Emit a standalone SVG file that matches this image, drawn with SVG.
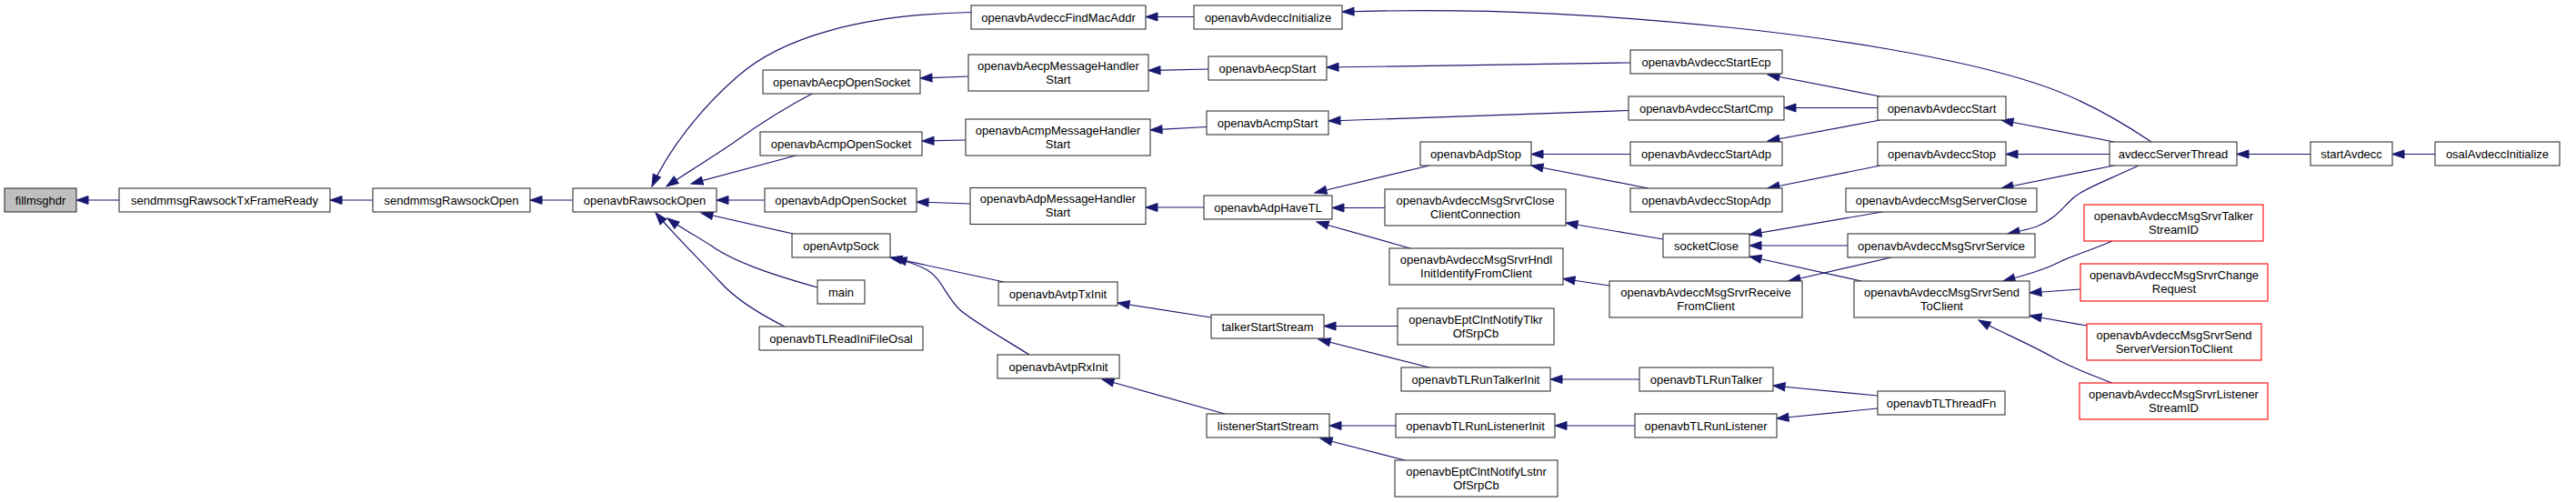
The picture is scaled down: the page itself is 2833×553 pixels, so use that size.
<svg xmlns="http://www.w3.org/2000/svg" width="2833" height="553" viewBox="0 0 2833 553">
<defs>
<style>
.n rect{fill:#fff;stroke:#333;stroke-width:1.1}
.n.r rect{stroke:#ff0000}
.n.g rect{fill:#bfbfbf}
.n text{font-family:"Liberation Sans",Arial,sans-serif;font-size:13px;fill:#000;text-anchor:middle}
#edges path{fill:none;stroke:#191970;stroke-width:1.2;marker-end:url(#ah)}
</style>
<marker id="ah" markerWidth="16" markerHeight="12" refX="13" refY="4.5" orient="auto" markerUnits="userSpaceOnUse" overflow="visible"><path d="M0,0 L13,4.5 L0,9 z" fill="#191970" stroke="#191970" stroke-width="1"/></marker>
</defs>
<rect width="2833" height="553" fill="#fff"/>
<g id="edges">
<path d="M131,220 L84,220"/>
<path d="M410,220 L363,220"/>
<path d="M630,220 L583,220"/>
<path d="M1068,13.5 C950,16 860,40 810,85 C770,120 735,165 717,205"/>
<path d="M895,102 C860,120 830,140 805,158 C780,175 755,190 733,205"/>
<path d="M879,170 L760,202"/>
<path d="M841,220 L788,220"/>
<path d="M872,257 L771,234"/>
<path d="M899,316 C860,305 810,290 782,270 C760,256 745,248 734,240"/>
<path d="M863,359 C835,345 810,330 792,310 C772,288 745,262 721,234"/>
<path d="M1313,18.5 L1260,18.5"/>
<path d="M1065,84 L1012,86"/>
<path d="M1062,154 L1014,155"/>
<path d="M1067,224 L1008,222"/>
<path d="M1104,310 L979,283"/>
<path d="M1132,390 C1100,370 1068,352 1055,340 C1040,325 1035,306 1020,297 C1008,290 996,287 984,284"/>
<path d="M1329,76 L1263,77.5"/>
<path d="M1327,139.5 L1265,143"/>
<path d="M1324,228 L1260,228"/>
<path d="M1332,349 L1229,333"/>
<path d="M1347,455 L1212,417"/>
<path d="M2366,156 C2320,125 2280,105 2240,92 C2150,62 2000,40 1900,30 C1780,18 1650,8 1476,13"/>
<path d="M1793,69 L1459,74"/>
<path d="M1791,121.5 L1461,133"/>
<path d="M1572,182 L1446,212"/>
<path d="M1523,228.5 L1465,228.5"/>
<path d="M1551,273 L1448,244"/>
<path d="M1537,358.5 L1456,358.5"/>
<path d="M1572,404 L1450,373"/>
<path d="M1535,468 L1462,468"/>
<path d="M1545,506 L1452,482"/>
<path d="M2068,106 L1944,82"/>
<path d="M2065,118.5 L1962,118.5"/>
<path d="M2068,132 L1944,155"/>
<path d="M1793,169.5 L1684,169.5"/>
<path d="M1813,207 L1684,182"/>
<path d="M1829,263 L1722,245"/>
<path d="M1770,314 L1719,306.5"/>
<path d="M1803,417 L1705,417"/>
<path d="M1798,468 L1710,468"/>
<path d="M2068,182 L1944,207"/>
<path d="M2070,233 L1924,258"/>
<path d="M2032,270 L1924,270"/>
<path d="M2047,309 L1924,282"/>
<path d="M2080,283 L1967,309"/>
<path d="M2065,435 L1950,424"/>
<path d="M2065,449 L1954,460"/>
<path d="M2325,156 L2201,132"/>
<path d="M2320,169.5 L2206,169.5"/>
<path d="M2325,182 L2201,207"/>
<path d="M2352,182 C2318,198 2295,206 2282,216 C2268,228 2262,240 2240,249 C2228,253 2218,255 2208,257"/>
<path d="M2541,169.5 L2460,169.5"/>
<path d="M2678,169.5 L2631,169.5"/>
<path d="M2323,265 C2300,275 2282,280 2267,287 C2248,297 2225,303 2203,309"/>
<path d="M2288,318 L2232,322"/>
<path d="M2295,358 L2232,347"/>
<path d="M2323,421 C2300,412 2280,405 2260,394 C2230,377 2200,365 2176,352"/>
</g>
<g id="fillmsghdr" class="n g"><rect x="5" y="207" width="79" height="26"/><text x="44.5" y="224.5">fillmsghdr</text></g>
<g id="sendmmsgRawsockTxFrameReady" class="n"><rect x="131" y="207" width="232" height="26"/><text x="247" y="224.5">sendmmsgRawsockTxFrameReady</text></g>
<g id="sendmmsgRawsockOpen" class="n"><rect x="410" y="207" width="173" height="26"/><text x="496.5" y="224.5">sendmmsgRawsockOpen</text></g>
<g id="openavbRawsockOpen" class="n"><rect x="630" y="207" width="158" height="26"/><text x="709" y="224.5">openavbRawsockOpen</text></g>
<g id="openavbAvdeccFindMacAddr" class="n"><rect x="1068" y="6" width="192" height="26"/><text x="1164" y="23.5">openavbAvdeccFindMacAddr</text></g>
<g id="openavbAvdeccInitialize" class="n"><rect x="1313" y="6" width="163" height="26"/><text x="1394.5" y="23.5">openavbAvdeccInitialize</text></g>
<g id="openavbAecpOpenSocket" class="n"><rect x="839" y="77" width="173" height="26"/><text x="925.5" y="94.5">openavbAecpOpenSocket</text></g>
<g id="openavbAecpMessageHandlerStart" class="n"><rect x="1065" y="60" width="198" height="40"/><text x="1164" y="76.5">openavbAecpMessageHandler</text><text x="1164" y="91.5">Start</text></g>
<g id="openavbAecpStart" class="n"><rect x="1329" y="62" width="130" height="26"/><text x="1394" y="79.5">openavbAecpStart</text></g>
<g id="openavbAcmpOpenSocket" class="n"><rect x="836" y="145" width="178" height="26"/><text x="925" y="162.5">openavbAcmpOpenSocket</text></g>
<g id="openavbAcmpMessageHandlerStart" class="n"><rect x="1062" y="131" width="203" height="40"/><text x="1163.5" y="147.5">openavbAcmpMessageHandler</text><text x="1163.5" y="162.5">Start</text></g>
<g id="openavbAcmpStart" class="n"><rect x="1327" y="122" width="134" height="26"/><text x="1394" y="139.5">openavbAcmpStart</text></g>
<g id="openavbAdpOpenSocket" class="n"><rect x="841" y="207" width="167" height="26"/><text x="924.5" y="224.5">openavbAdpOpenSocket</text></g>
<g id="openavbAdpMessageHandlerStart" class="n"><rect x="1067" y="206.5" width="193" height="40"/><text x="1163.5" y="223">openavbAdpMessageHandler</text><text x="1163.5" y="238">Start</text></g>
<g id="openavbAdpHaveTL" class="n"><rect x="1324" y="215" width="141" height="26"/><text x="1394.5" y="232.5">openavbAdpHaveTL</text></g>
<g id="openAvtpSock" class="n"><rect x="871" y="257" width="108" height="26"/><text x="925" y="274.5">openAvtpSock</text></g>
<g id="main" class="n"><rect x="899" y="308" width="52" height="26"/><text x="925" y="325.5">main</text></g>
<g id="openavbTLReadIniFileOsal" class="n"><rect x="835" y="359" width="180" height="26"/><text x="925" y="376.5">openavbTLReadIniFileOsal</text></g>
<g id="openavbAvtpTxInit" class="n"><rect x="1098" y="310" width="131" height="26"/><text x="1163.5" y="327.5">openavbAvtpTxInit</text></g>
<g id="openavbAvtpRxInit" class="n"><rect x="1097" y="390" width="134" height="26"/><text x="1164" y="407.5">openavbAvtpRxInit</text></g>
<g id="talkerStartStream" class="n"><rect x="1332" y="346" width="124" height="26"/><text x="1394" y="363.5">talkerStartStream</text></g>
<g id="listenerStartStream" class="n"><rect x="1327" y="455" width="135" height="26"/><text x="1394.5" y="472.5">listenerStartStream</text></g>
<g id="openavbAdpStop" class="n"><rect x="1562" y="156" width="122" height="26"/><text x="1623" y="173.5">openavbAdpStop</text></g>
<g id="openavbAvdeccMsgSrvrCloseClientConnection" class="n"><rect x="1523" y="208" width="199" height="40"/><text x="1622.5" y="224.5">openavbAvdeccMsgSrvrClose</text><text x="1622.5" y="239.5">ClientConnection</text></g>
<g id="openavbAvdeccMsgSrvrHndlInitIdentifyFromClient" class="n"><rect x="1528" y="273" width="191" height="40"/><text x="1623.5" y="289.5">openavbAvdeccMsgSrvrHndl</text><text x="1623.5" y="304.5">InitIdentifyFromClient</text></g>
<g id="openavbEptClntNotifyTlkrOfSrpCb" class="n"><rect x="1537" y="339" width="172" height="40"/><text x="1623" y="355.5">openavbEptClntNotifyTlkr</text><text x="1623" y="370.5">OfSrpCb</text></g>
<g id="openavbTLRunTalkerInit" class="n"><rect x="1541" y="404" width="164" height="26"/><text x="1623" y="421.5">openavbTLRunTalkerInit</text></g>
<g id="openavbTLRunListenerInit" class="n"><rect x="1535" y="455" width="175" height="26"/><text x="1622.5" y="472.5">openavbTLRunListenerInit</text></g>
<g id="openavbEptClntNotifyLstnrOfSrpCb" class="n"><rect x="1534" y="506" width="179" height="40"/><text x="1623.5" y="522.5">openavbEptClntNotifyLstnr</text><text x="1623.5" y="537.5">OfSrpCb</text></g>
<g id="openavbAvdeccStartEcp" class="n"><rect x="1793" y="55" width="167" height="26"/><text x="1876.5" y="72.5">openavbAvdeccStartEcp</text></g>
<g id="openavbAvdeccStartCmp" class="n"><rect x="1791" y="106" width="171" height="26"/><text x="1876.5" y="123.5">openavbAvdeccStartCmp</text></g>
<g id="openavbAvdeccStartAdp" class="n"><rect x="1793" y="156" width="167" height="26"/><text x="1876.5" y="173.5">openavbAvdeccStartAdp</text></g>
<g id="openavbAvdeccStopAdp" class="n"><rect x="1793" y="207" width="167" height="26"/><text x="1876.5" y="224.5">openavbAvdeccStopAdp</text></g>
<g id="socketClose" class="n"><rect x="1829" y="257" width="95" height="26"/><text x="1876.5" y="274.5">socketClose</text></g>
<g id="openavbAvdeccMsgSrvrReceiveFromClient" class="n"><rect x="1770" y="309" width="212" height="40"/><text x="1876" y="325.5">openavbAvdeccMsgSrvrReceive</text><text x="1876" y="340.5">FromClient</text></g>
<g id="openavbTLRunTalker" class="n"><rect x="1803" y="404" width="147" height="26"/><text x="1876.5" y="421.5">openavbTLRunTalker</text></g>
<g id="openavbTLRunListener" class="n"><rect x="1798" y="455" width="156" height="26"/><text x="1876" y="472.5">openavbTLRunListener</text></g>
<g id="openavbAvdeccStart" class="n"><rect x="2065" y="106" width="141" height="26"/><text x="2135.5" y="123.5">openavbAvdeccStart</text></g>
<g id="openavbAvdeccStop" class="n"><rect x="2065" y="156" width="141" height="26"/><text x="2135.5" y="173.5">openavbAvdeccStop</text></g>
<g id="openavbAvdeccMsgServerClose" class="n"><rect x="2030" y="207" width="210" height="26"/><text x="2135" y="224.5">openavbAvdeccMsgServerClose</text></g>
<g id="openavbAvdeccMsgSrvrService" class="n"><rect x="2032" y="257" width="206" height="26"/><text x="2135" y="274.5">openavbAvdeccMsgSrvrService</text></g>
<g id="openavbAvdeccMsgSrvrSendToClient" class="n"><rect x="2039" y="309" width="193" height="40"/><text x="2135.5" y="325.5">openavbAvdeccMsgSrvrSend</text><text x="2135.5" y="340.5">ToClient</text></g>
<g id="openavbTLThreadFn" class="n"><rect x="2065" y="430" width="140" height="26"/><text x="2135" y="447.5">openavbTLThreadFn</text></g>
<g id="avdeccServerThread" class="n"><rect x="2320" y="156" width="140" height="26"/><text x="2390" y="173.5">avdeccServerThread</text></g>
<g id="openavbAvdeccMsgSrvrTalkerStreamID" class="n r"><rect x="2292" y="225" width="197" height="40"/><text x="2390.5" y="241.5">openavbAvdeccMsgSrvrTalker</text><text x="2390.5" y="256.5">StreamID</text></g>
<g id="openavbAvdeccMsgSrvrChangeRequest" class="n r"><rect x="2288" y="290" width="206" height="41"/><text x="2391" y="306.5">openavbAvdeccMsgSrvrChange</text><text x="2391" y="321.5">Request</text></g>
<g id="openavbAvdeccMsgSrvrSendServerVersionToClient" class="n r"><rect x="2295" y="356" width="192" height="40"/><text x="2391" y="372.5">openavbAvdeccMsgSrvrSend</text><text x="2391" y="387.5">ServerVersionToClient</text></g>
<g id="openavbAvdeccMsgSrvrListenerStreamID" class="n r"><rect x="2287" y="421" width="207" height="40"/><text x="2390.5" y="437.5">openavbAvdeccMsgSrvrListener</text><text x="2390.5" y="452.5">StreamID</text></g>
<g id="startAvdecc" class="n"><rect x="2541" y="156" width="90" height="26"/><text x="2586" y="173.5">startAvdecc</text></g>
<g id="osalAvdeccInitialize" class="n"><rect x="2678" y="156" width="137" height="26"/><text x="2746.5" y="173.5">osalAvdeccInitialize</text></g>
</svg>
